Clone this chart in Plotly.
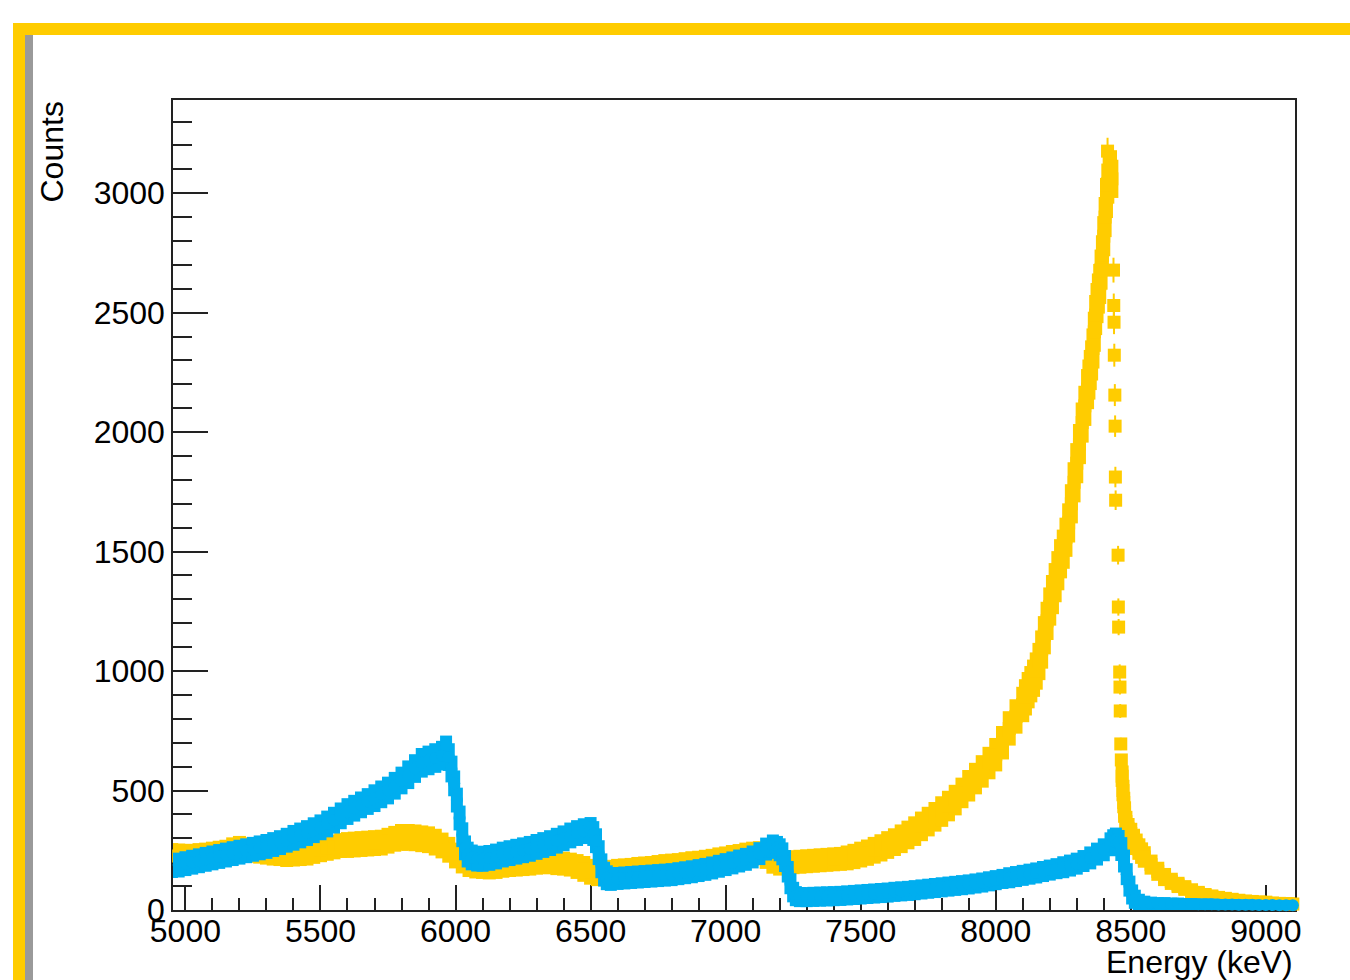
import plotly.graph_objects as go

# ---------------- data ----------------
# Yellow spectrum (square markers): energy (keV), counts, band half-spread (counts)
yellow_e = [
    4950, 4975, 5000, 5025, 5050, 5075, 5100, 5125, 5150, 5175,
    5200, 5225, 5250, 5275, 5300, 5325, 5350, 5375, 5400, 5425,
    5450, 5475, 5500, 5525, 5550, 5575, 5600, 5625, 5650, 5675,
    5700, 5725, 5750, 5775, 5800, 5825, 5850, 5875, 5900, 5925,
    5950, 5975, 6000, 6025, 6050, 6075, 6100, 6125, 6150, 6175,
    6200, 6225, 6250, 6275, 6300, 6325, 6350, 6375, 6400, 6425,
    6450, 6475, 6500, 6525, 6550, 6575, 6600, 6625, 6650, 6675,
    6700, 6725, 6750, 6775, 6800, 6825, 6850, 6875, 6900, 6925,
    6950, 6975, 7000, 7025, 7050, 7075, 7100, 7125, 7150, 7175,
    7200, 7225, 7250, 7275, 7300, 7325, 7350, 7375, 7400, 7425,
    7450, 7475, 7500, 7525, 7550, 7575, 7600, 7625, 7650, 7675,
    7700, 7725, 7750, 7775, 7800, 7825, 7850, 7875, 7900, 7925,
    7950, 7975, 8000, 8025, 8050, 8075, 8100,
    8110, 8120, 8130, 8140, 8150, 8160, 8170, 8180, 8190, 8200,
    8210, 8220, 8230, 8240, 8250, 8260, 8270, 8280, 8290, 8300,
    8310, 8320, 8330, 8340,
    8345, 8350, 8355, 8360, 8365, 8370, 8375, 8380, 8385, 8390,
    8395, 8400, 8405, 8410, 8415, 8420, 8425, 8430,
    8468, 8471, 8474, 8477, 8482, 8490, 8500, 8510, 8520, 8530,
    8540, 8550, 8575, 8600, 8625, 8650, 8675, 8700, 8725, 8750,
    8775, 8800, 8825, 8850, 8875, 8900, 8925, 8950, 8975, 9000,
    9025, 9050, 9075, 9100, 9125,
]
yellow_counts = [
    228, 226, 225, 224, 228, 230, 232, 236, 242, 252,
    258, 252, 248, 244, 240, 236, 232, 228, 230, 232,
    236, 245, 252, 258, 264, 270, 272, 274, 276, 278,
    280, 282, 290, 298, 304, 304, 302, 298, 294, 284,
    270, 252, 228, 205, 188, 182, 180, 178, 180, 185,
    188, 190, 192, 194, 198, 200, 200, 196, 194, 190,
    182, 172, 160, 152, 152, 160, 164, 166, 168, 172,
    174, 176, 180, 184, 186, 188, 192, 196, 198, 202,
    206, 212, 216, 222, 226, 232, 236, 238, 226, 206,
    196, 198, 200, 202, 204, 206, 208, 210, 212, 214,
    218, 224, 232, 240, 250, 260, 272, 284, 298, 314,
    330, 350, 370, 390, 412, 435, 460, 490, 520, 550,
    580, 615, 650, 700, 760, 810, 860,
    890, 920, 945, 970, 1000, 1040, 1090, 1150, 1210, 1270,
    1320, 1370, 1420, 1470, 1510, 1560, 1620, 1700, 1790, 1870,
    1950, 2040, 2110, 2180,
    2220, 2260, 2300, 2350, 2420, 2490, 2540, 2580, 2620, 2680,
    2740, 2820, 2900, 2980, 3040, 3080, 3100, 3060,
    560, 500, 450, 410, 370, 340, 320, 295, 275, 255,
    238, 222, 190, 162, 138, 120, 105, 92, 80, 70,
    62, 56, 50, 46, 42, 38, 35, 33, 31, 30,
    28, 27, 26, 25, 24,
]
yellow_spread = [
    52, 52, 52, 52, 52, 52, 54, 54, 52, 52,
    52, 52, 50, 50, 50, 50, 48, 48, 48, 48,
    50, 52, 52, 52, 52, 52, 54, 54, 54, 54,
    54, 54, 54, 54, 56, 56, 56, 56, 56, 56,
    54, 54, 54, 52, 50, 50, 50, 50, 50, 50,
    50, 50, 50, 50, 50, 50, 50, 50, 50, 50,
    52, 54, 54, 52, 50, 50, 50, 50, 50, 50,
    50, 50, 50, 50, 50, 50, 50, 50, 50, 50,
    50, 50, 50, 50, 50, 50, 50, 50, 54, 54,
    52, 50, 50, 50, 50, 50, 50, 50, 50, 50,
    52, 53, 54, 55, 56, 57, 58, 58, 60, 60,
    62, 62, 62, 62, 64, 64, 64, 64, 66, 66,
    68, 68, 70, 70, 72, 72, 74,
    76, 76, 76, 78, 78, 78, 80, 80, 80, 80,
    82, 82, 82, 82, 82, 82, 82, 82, 84, 84,
    84, 84, 84, 84,
    84, 84, 84, 84, 84, 84, 84, 84, 84, 84,
    84, 84, 84, 84, 84, 84, 80, 80,
    45, 45, 45, 45, 45, 45, 45, 45, 45, 45,
    45, 45, 42, 40, 38, 36, 34, 33, 32, 31,
    30, 30, 30, 30, 30, 30, 30, 30, 30, 30,
    28, 28, 28, 28, 28,
]

# Yellow: isolated bins on the top and falling edge of the 8.4 MeV peak
yellow_edge_e = [8414, 8436, 8437, 8438, 8439, 8441, 8442, 8443, 8444,
                 8453, 8454, 8455, 8459, 8460, 8461, 8463, 8465]
yellow_edge_counts = [3176, 2678, 2530, 2460, 2322, 2155, 2025, 1812, 1715,
                      1485, 1268, 1184, 996, 933, 833, 695, 628]
yellow_edge_err = [56, 52, 50, 50, 48, 46, 45, 43, 41,
                   39, 36, 34, 32, 31, 29, 26, 25]

# Blue spectrum (circle markers), in sections
blue_e_a = [4950, 4975, 5000, 5025, 5050, 5075, 5100, 5125, 5150, 5175,
            5200, 5225, 5250, 5275, 5300, 5325, 5350, 5375, 5400, 5425,
            5450, 5475, 5500, 5525, 5550, 5575, 5600, 5625, 5650, 5675,
            5700, 5725, 5750, 5775, 5800, 5825, 5850, 5875, 5900, 5925, 5950]
blue_c_a = [186, 188, 194, 200, 206, 212, 218, 224, 230, 236,
            242, 248, 254, 260, 266, 274, 282, 292, 302, 312,
            322, 334, 346, 360, 376, 394, 412, 426, 440, 454,
            468, 484, 500, 520, 542, 566, 592, 616, 626, 636, 646]
blue_s_a = [52, 52, 52, 52, 52, 52, 52, 52, 52, 52,
            52, 52, 52, 52, 52, 52, 52, 52, 54, 54,
            54, 54, 54, 56, 56, 56, 56, 56, 56, 56,
            58, 58, 58, 58, 58, 60, 60, 62, 62, 62, 62]

blue_e_b = [5965, 5975, 5985, 5995, 6005, 6015, 6025, 6035, 6045, 6060, 6080]
blue_c_b = [690, 640, 590, 530, 460, 385, 315, 260, 232, 220, 215]
blue_s_b = [40, 58, 56, 54, 52, 52, 52, 52, 54, 54, 54]

blue_e_c = [6100, 6125, 6150, 6175, 6200, 6225, 6250, 6275, 6300, 6325,
            6350, 6375, 6400, 6425, 6450, 6475, 6500]
blue_c_c = [214, 218, 224, 232, 238, 244, 250, 256, 264, 272,
            280, 290, 300, 312, 322, 330, 335]
blue_s_c = [54, 54, 54, 54, 54, 54, 54, 54, 54, 54,
            54, 54, 54, 54, 54, 54, 54]

blue_e_d = [6510, 6520, 6530, 6540, 6550, 6560, 6575]
blue_c_d = [320, 290, 240, 185, 150, 135, 130]
blue_s_d = [52, 52, 52, 52, 52, 52, 50]

blue_e_e = [6600, 6625, 6650, 6675, 6700, 6725, 6750, 6775, 6800, 6825,
            6850, 6875, 6900, 6925, 6950, 6975, 7000, 7025, 7050, 7075,
            7100, 7125, 7150, 7175]
blue_c_e = [132, 134, 136, 138, 140, 142, 144, 146, 148, 152,
            156, 160, 165, 170, 176, 183, 190, 197, 205, 212,
            222, 236, 255, 268]
blue_s_e = [48, 48, 48, 48, 48, 48, 48, 48, 48, 48,
            48, 48, 48, 48, 48, 48, 48, 48, 48, 48,
            48, 48, 48, 48]

blue_e_f = [7190, 7200, 7210, 7220, 7230, 7240, 7250, 7260, 7275]
blue_c_f = [262, 252, 235, 205, 160, 110, 75, 58, 54]
blue_s_f = [48, 48, 48, 46, 45, 44, 43, 42, 42]

blue_e_g = [7300, 7325, 7350, 7375, 7400, 7425, 7450, 7475, 7500, 7525,
            7550, 7575, 7600, 7625, 7650, 7675, 7700, 7725, 7750, 7775,
            7800, 7825, 7850, 7875, 7900, 7925, 7950, 7975, 8000, 8025,
            8050, 8075, 8100, 8125, 8150, 8175, 8200, 8225, 8250, 8275,
            8300, 8325, 8350, 8375, 8400, 8425]
blue_c_g = [54, 55, 56, 57, 58, 59, 61, 63, 65, 67,
            69, 71, 73, 76, 78, 80, 83, 86, 89, 92,
            95, 98, 101, 104, 107, 111, 115, 120, 125, 130,
            135, 140, 145, 150, 155, 161, 167, 173, 179, 186,
            194, 205, 218, 234, 252, 275]
blue_s_g = [42, 42, 42, 42, 42, 42, 42, 42, 42, 42,
            42, 42, 42, 42, 42, 42, 42, 42, 42, 42,
            42, 42, 42, 42, 42, 42, 42, 42, 42, 42,
            44, 44, 44, 44, 44, 44, 44, 44, 46, 46,
            46, 46, 48, 48, 48, 50]

blue_e_h = [8435, 8445, 8455, 8465, 8475, 8485, 8495, 8505, 8515, 8530, 8550]
blue_c_h = [288, 295, 285, 255, 205, 150, 100, 65, 45, 34, 30]
blue_s_h = [50, 50, 50, 50, 48, 46, 44, 42, 40, 34, 30]

blue_e_i = [8575, 8600, 8625, 8650, 8675, 8700, 8725, 8750, 8775, 8800,
            8825, 8850, 8875, 8900, 8925, 8950, 8975, 9000, 9025, 9050,
            9075, 9100, 9125]
blue_c_i = [28, 27, 27, 26, 26, 25, 25, 24, 24, 24,
            23, 23, 23, 22, 22, 22, 21, 21, 21, 20,
            20, 20, 20]
blue_s_i = [28, 27, 27, 26, 26, 25, 25, 24, 24, 24,
            23, 23, 23, 22, 22, 22, 21, 21, 21, 20,
            20, 20, 20]

blue_e = blue_e_a + blue_e_b + blue_e_c + blue_e_d + blue_e_e + blue_e_f + blue_e_g + blue_e_h + blue_e_i
blue_counts = blue_c_a + blue_c_b + blue_c_c + blue_c_d + blue_c_e + blue_c_f + blue_c_g + blue_c_h + blue_c_i
blue_spread = blue_s_a + blue_s_b + blue_s_c + blue_s_d + blue_s_e + blue_s_f + blue_s_g + blue_s_h + blue_s_i

x_ticks = [5000, 5500, 6000, 6500, 7000, 7500, 8000, 8500, 9000]
y_ticks = [0, 500, 1000, 1500, 2000, 2500, 3000]

# ---------------- styling ----------------
YELLOW = "#FFCC00"
BLUE = "#00AEEF"
FONT = "Liberation Sans"
W, H = 1350, 980
ML, MR, MT, MB = 173, 55, 100, 70


def fx(px):
    return (px - ML) / (W - ML - MR)


def fy(py):
    return (H - MB - py) / (H - MT - MB)


fig = go.Figure()

fig.add_trace(go.Scatter(
    x=yellow_e, y=yellow_counts, mode="markers",
    marker=dict(symbol="square", size=13, color=YELLOW, line=dict(width=0)),
    error_y=dict(type="data", array=yellow_spread, symmetric=True,
                 thickness=13, width=0, color=YELLOW),
    cliponaxis=False, showlegend=False, hoverinfo="skip",
))
fig.add_trace(go.Scatter(
    x=yellow_edge_e, y=yellow_edge_counts, mode="markers",
    marker=dict(symbol="square", size=13, color=YELLOW, line=dict(width=0)),
    error_y=dict(type="data", array=yellow_edge_err, symmetric=True,
                 thickness=2, width=0, color=YELLOW),
    cliponaxis=False, showlegend=False, hoverinfo="skip",
))
fig.add_trace(go.Scatter(
    x=blue_e, y=blue_counts, mode="markers",
    marker=dict(symbol="circle", size=12, color=BLUE, line=dict(width=0)),
    error_y=dict(type="data", array=blue_spread, symmetric=True,
                 thickness=12, width=0, color=BLUE),
    cliponaxis=False, showlegend=False, hoverinfo="skip",
))

axis_common = dict(
    showgrid=False, zeroline=False, showline=True, mirror=True,
    linecolor="#222222", linewidth=1.5, ticks="inside", tickcolor="#222222",
    tickwidth=1.5, layer="below traces",
    tickfont=dict(family=FONT, size=32, color="black"),
)

fig.update_xaxes(
    range=[4954, 9108], tickmode="array", tickvals=x_ticks,
    ticktext=[str(v) for v in x_ticks], ticklen=25, ticklabelstandoff=-8,
    minor=dict(dtick=100, tick0=5000, ticks="inside", ticklen=12,
               tickcolor="#222222", tickwidth=1.5, showgrid=False),
    **axis_common,
)
fig.update_yaxes(
    range=[0, 3390], tickmode="array", tickvals=y_ticks,
    ticktext=[str(v) for v in y_ticks], ticklen=35,
    minor=dict(dtick=100, tick0=0, ticks="inside", ticklen=19,
               tickcolor="#222222", tickwidth=1.5, showgrid=False),
    **axis_common,
)

shapes = [
    dict(type="rect", xref="paper", yref="paper", x0=fx(13), x1=fx(1360),
         y0=fy(35), y1=fy(23), fillcolor=YELLOW, line=dict(width=0)),
    dict(type="rect", xref="paper", yref="paper", x0=fx(13), x1=fx(25),
         y0=fy(995), y1=fy(23), fillcolor=YELLOW, line=dict(width=0)),
    dict(type="rect", xref="paper", yref="paper", x0=fx(25), x1=fx(33),
         y0=fy(995), y1=fy(35), fillcolor="#9a9a9a", line=dict(width=0)),
]

annotations = [
    dict(text="Counts", xref="paper", yref="paper", x=fx(51), y=fy(100),
         xanchor="center", yanchor="top", textangle=-90, showarrow=False,
         font=dict(family=FONT, size=32, color="black")),
    dict(text="Energy (keV)", xref="paper", yref="paper", x=fx(1295), y=fy(942),
         xanchor="right", yanchor="top", showarrow=False,
         font=dict(family=FONT, size=32, color="black")),
]

fig.update_layout(
    width=W, height=H,
    margin=dict(l=ML, r=MR, t=MT, b=MB, pad=0),
    paper_bgcolor="white", plot_bgcolor="white",
    shapes=shapes, annotations=annotations,
    font=dict(family=FONT, size=32, color="black"),
)

fig.write_html("out.html", config={"displayModeBar": False},
               post_script="document.body.style.margin='0px';")
